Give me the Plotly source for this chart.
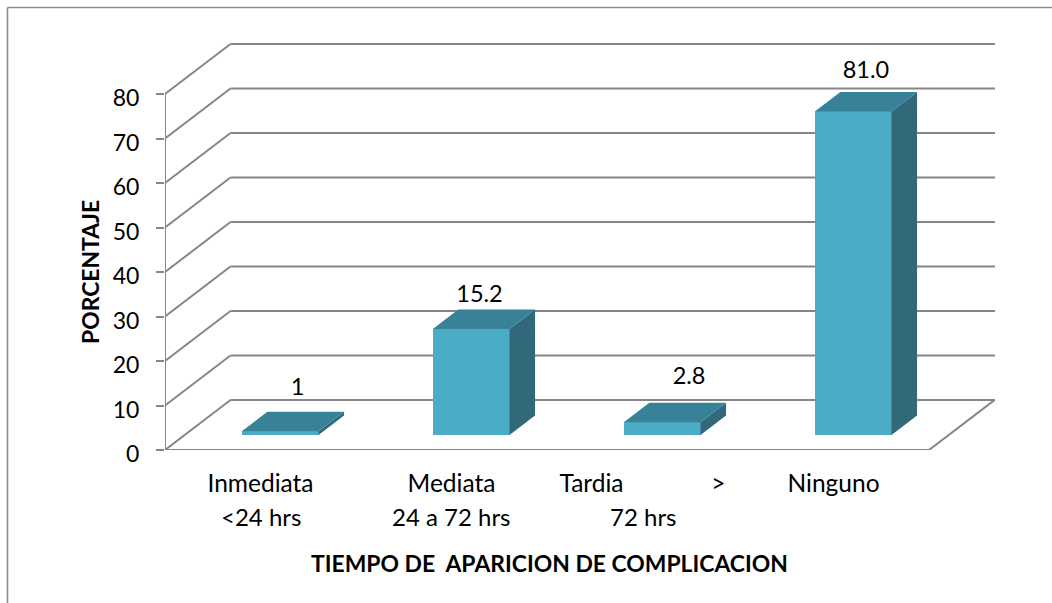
import plotly.graph_objects as go

# ---- data ----
categories = ["Inmediata", "Mediata", "Tardia\u00a0\u00a0\u00a0\u00a0\u00a0\u00a0\u00a0\u00a0\u00a0\u00a0\u00a0\u00a0\u00a0\u00a0>", "Ninguno"]
second_lines = ["<24 hrs", "24 a 72 hrs", "72 hrs", ""]
bar_heights = [0.85, 23.8, 2.86, 72.7]
bar_labels = ["1", "15.2", "2.8", "81.0"]
y_ticks = [0, 10, 20, 30, 40, 50, 60, 70, 80]

# ---- geometry / style ----
PX_Y = 4.45            # px per percent
PX_X = 191.0           # px per category
LEFT, RIGHT, TOP, BOTTOM = 165.0, 995.0, 40.0, 450.0
DEPTH_X = 65.5 / PX_X  # full depth of the floor, in x units
DEPTH_Y = 50.0 / PX_Y  # full depth of the floor, in y units
BAR_D0, BAR_D1 = 0.30, 0.69
BAR_W = 76.7 / PX_X
GRID = "#868686"
FONT = "Lato"
FRONT, ROOF, SIDE = "#4BACC6", "#378299", "#31697A"
label_nudge_x = [0.024, -0.023, 0.074, 0.0]
label_nudge_y = [5.1, 3.1, 5.6, 4.5]
x_min = -0.5
x_max = x_min + (RIGHT - LEFT) / PX_X
y_max = (BOTTOM - TOP) / PX_Y
x_count = len(categories)


def pt(x, depth, y):
    return x + depth * DEPTH_X, y + depth * DEPTH_Y


def paper_x(px):
    return (px - LEFT) / (RIGHT - LEFT)


def paper_y(px):
    return (BOTTOM - px) / (BOTTOM - TOP)


fig = go.Figure()

shift = BAR_D0 * DEPTH_X
base = BAR_D0 * DEPTH_Y
front_x = [i + shift for i in range(x_count)]

fig.add_trace(go.Bar(
    x=front_x, y=bar_heights, base=[base] * x_count, width=BAR_W,
    marker=dict(color=FRONT, line=dict(width=0)), showlegend=False, hoverinfo="skip",
))

for xc, h in zip(range(x_count), bar_heights):
    x0, x1 = xc - BAR_W / 2, xc + BAR_W / 2
    top = pt(x0, BAR_D0, h), pt(x1, BAR_D0, h), pt(x1, BAR_D1, h), pt(x0, BAR_D1, h)
    side = pt(x1, BAR_D0, 0), pt(x1, BAR_D1, 0), pt(x1, BAR_D1, h), pt(x1, BAR_D0, h)
    for poly, colour in ((side, SIDE), (top, ROOF)):
        px_ = [p[0] for p in poly] + [poly[0][0]]
        py_ = [p[1] for p in poly] + [poly[0][1]]
        fig.add_trace(go.Scatter(
            x=px_, y=py_, mode="lines", fill="toself", fillcolor=colour,
            line=dict(width=0, color=colour), showlegend=False, hoverinfo="skip",
        ))

label_x, label_y = [], []
for xc, h, nx, ny in zip(range(x_count), bar_heights, label_nudge_x, label_nudge_y):
    lx, ly = pt(xc, (BAR_D0 + BAR_D1) / 2, h)
    label_x.append(lx + nx)
    label_y.append(pt(xc, BAR_D1, h)[1] + ny)
fig.add_trace(go.Scatter(
    x=label_x, y=label_y, text=bar_labels, mode="text", textposition="middle center",
    textfont=dict(family=FONT, size=23.5, color="#000000"), showlegend=False,
    hoverinfo="skip", cliponaxis=False,
))

# wall grid, floor, and the axis spine: all derived from the tick values
shapes = []
line = dict(color=GRID, width=2)
for t in y_ticks:
    a = pt(x_min, 0, t)
    b = pt(x_min, 1, t)
    c = (x_max, b[1])
    shapes.append(dict(type="line", xref="x", yref="y", x0=a[0], y0=a[1], x1=b[0], y1=b[1], line=line, layer="below"))
    shapes.append(dict(type="line", xref="x", yref="y", x0=b[0], y0=b[1], x1=c[0], y1=c[1], line=line, layer="below"))
floor_right = x_min + x_count
shapes.append(dict(type="line", xref="x", yref="y", x0=x_min, y0=0, x1=floor_right, y1=0, line=line, layer="below"))
e = pt(floor_right, 1, 0)
shapes.append(dict(type="line", xref="x", yref="y", x0=floor_right, y0=0, x1=e[0], y1=e[1], line=line, layer="below"))
shapes.append(dict(type="line", xref="x", yref="y", x0=x_min, y0=0, x1=x_min, y1=y_ticks[-1], line=line, layer="below"))
# outer chart frame
frame = dict(color="#8C8C8C", width=1.6)
shapes.append(dict(type="line", xref="paper", yref="paper", x0=paper_x(7.5), y0=paper_y(7.5), x1=paper_x(7.5), y1=paper_y(603), line=frame))
shapes.append(dict(type="line", xref="paper", yref="paper", x0=paper_x(7.5), y0=paper_y(7.5), x1=paper_x(1052), y1=paper_y(7.5), line=frame))

annotations = []
for i, txt in enumerate(second_lines):
    if txt:
        annotations.append(dict(text=txt, xref="x", yref="paper", x=i, y=paper_y(516), showarrow=False,
                                xanchor="center", yanchor="middle", font=dict(family=FONT, size=24, color="#000000")))
annotations.append(dict(text="TIEMPO DE \u00a0APARICION DE COMPLICACION", xref="paper", yref="paper",
                        x=paper_x(549), y=paper_y(563), showarrow=False, xanchor="center", yanchor="middle",
                        font=dict(family=FONT, size=22.9, color="#000000", weight="bold")))
annotations.append(dict(text="PORCENTAJE", xref="paper", yref="paper", x=paper_x(90), y=paper_y(272),
                        showarrow=False, textangle=-90, xanchor="center", yanchor="middle",
                        font=dict(family=FONT, size=22.9, color="#000000", weight="bold")))

fig.update_layout(
    width=1052, height=603, autosize=False,
    margin=dict(l=LEFT, r=1052 - RIGHT, t=TOP, b=603 - BOTTOM, pad=0),
    plot_bgcolor="#FFFFFF", paper_bgcolor="#FFFFFF",
    shapes=shapes, annotations=annotations, showlegend=False, bargap=0,
    xaxis=dict(range=[x_min, x_max], tickmode="array", tickvals=list(range(x_count)), ticktext=categories,
               showgrid=False, zeroline=False, showline=False, ticks="outside", ticklen=12, tickcolor="rgba(0,0,0,0)",
               tickfont=dict(family=FONT, size=24.5, color="#000000")),
    yaxis=dict(range=[0, y_max], tickmode="array", tickvals=y_ticks, showgrid=False, zeroline=False,
               showline=False, ticks="outside", ticklen=8, tickwidth=2, tickcolor=GRID, ticklabelstandoff=12,
               ticklabelshift=4, tickfont=dict(family=FONT, size=23, color="#000000")),
)
fig.write_html("out.html", config=dict(displayModeBar=False),
               post_script="document.body.style.margin='0';document.body.style.overflow='hidden';")
